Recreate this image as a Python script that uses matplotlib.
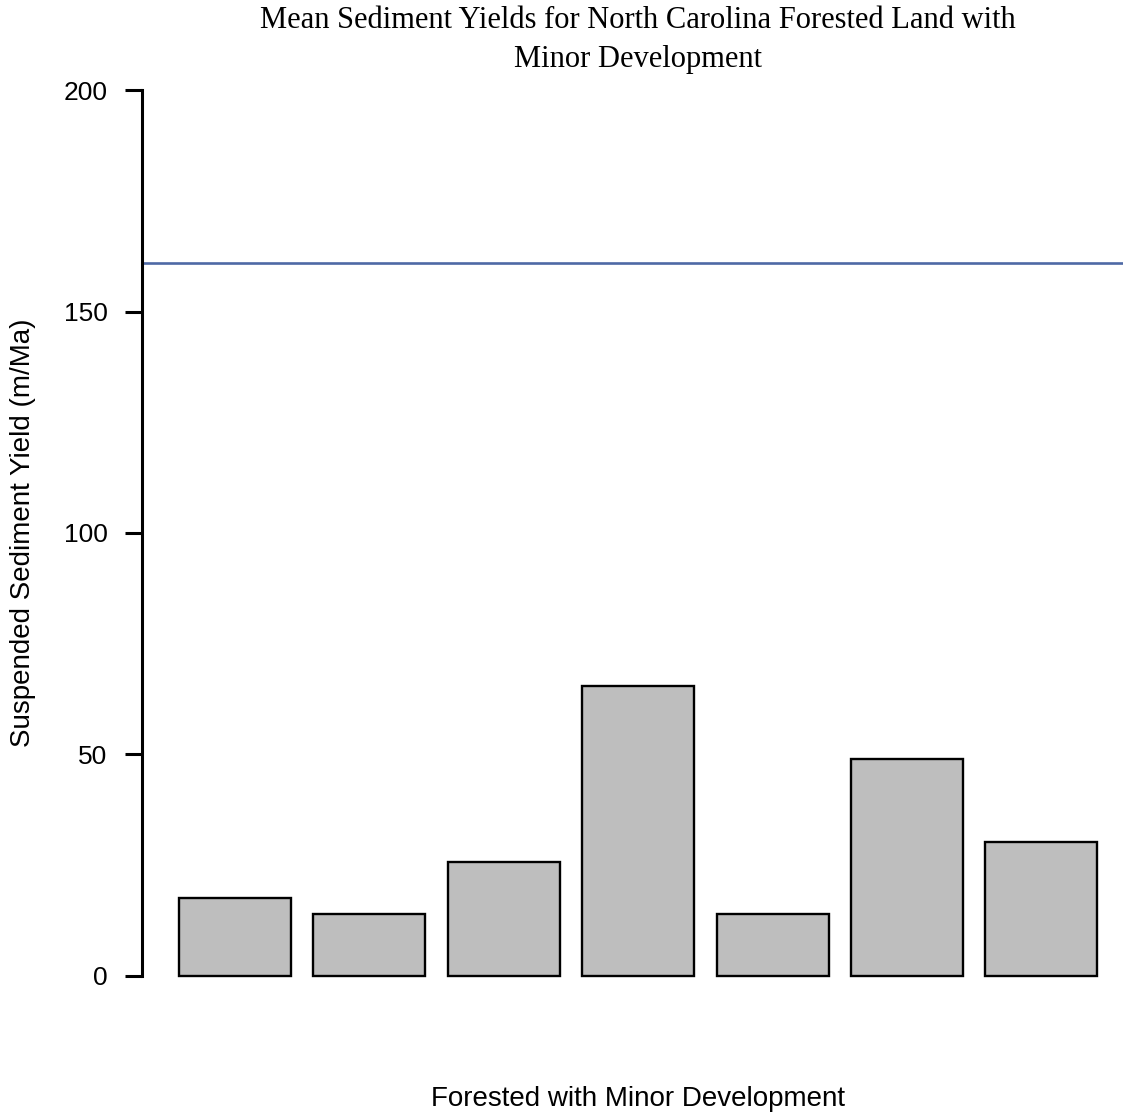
"""
Bar chart of mean suspended sediment yields for forested NC basins
with minor development, with a reference line.
"""

import matplotlib
matplotlib.use("Agg")
import matplotlib.pyplot as plt
import numpy as np


# ---------------------------------------------------------
# Data
# ---------------------------------------------------------

sites = ["1", "2", "3", "4", "5", "6", "7"]
yields = [17.7, 14.0, 25.7, 65.5, 14.0, 48.9, 30.2]
reference_yield = 161.0
y_ticks = [0, 50, 100, 150, 200]


# ---------------------------------------------------------
# Figure / axes (R barplot style layout)
# ---------------------------------------------------------

W, H = 1123, 1113
fig = plt.figure(figsize=(W / 100, H / 100), dpi=100)

left_px, right_px = 142.3, 1134.0
bottom_px, top_px = 1011.4, 54.6
ax = fig.add_axes([
    left_px / W,
    (H - bottom_px) / H,
    (right_px - left_px) / W,
    (bottom_px - top_px) / H,
])

sans = "Liberation Sans"
serif = "Liberation Serif"

# bar centres like R: width 1, space 0.2
x = 0.7 + 1.2 * np.arange(len(sites))

ax.bar(
    x,
    yields,
    width=1.0,
    color="#bebebe",
    edgecolor="black",
    linewidth=1.7,
    zorder=2,
)

ax.axhline(reference_yield, color="#4e69a5", linewidth=1.9, zorder=1)

ax.set_xlim(-0.128, 8.728)
ax.set_ylim(-8, 208)

# only the y axis is drawn
for side in ["top", "right", "bottom"]:
    ax.spines[side].set_visible(False)
ax.spines["left"].set_bounds(0, 200)
ax.spines["left"].set_linewidth(2.2)

ax.set_xticks([])
ax.set_yticks(y_ticks)
ax.set_yticklabels([str(t) for t in y_ticks], fontfamily=sans, fontsize=19)
ax.tick_params(axis="y", length=12, width=2.2, pad=13)

ax.set_ylabel(
    "Suspended Sediment Yield (m/Ma)",
    fontfamily=sans,
    fontsize=20,
    va="center",
)
ax.yaxis.set_label_coords((23 - left_px) / (right_px - left_px), 0.5)

ax.text(
    0.5, -(1106 - bottom_px) / (bottom_px - top_px),
    "Forested with Minor Development",
    transform=ax.transAxes,
    ha="center", va="baseline",
    fontfamily=sans, fontsize=20,
    clip_on=False,
)

# two-line title in serif, centred over the plot region
title_lines = [
    "Mean Sediment Yields for North Carolina Forested Land with",
    "Minor Development",
]
for line, base_px in zip(title_lines, [28, 67]):
    ax.text(
        0.5, (top_px - base_px) / (bottom_px - top_px) + 1.0,
        line,
        transform=ax.transAxes,
        ha="center", va="baseline",
        fontfamily=serif, fontsize=22,
        clip_on=False,
    )

fig.savefig("out.png", dpi=100)
